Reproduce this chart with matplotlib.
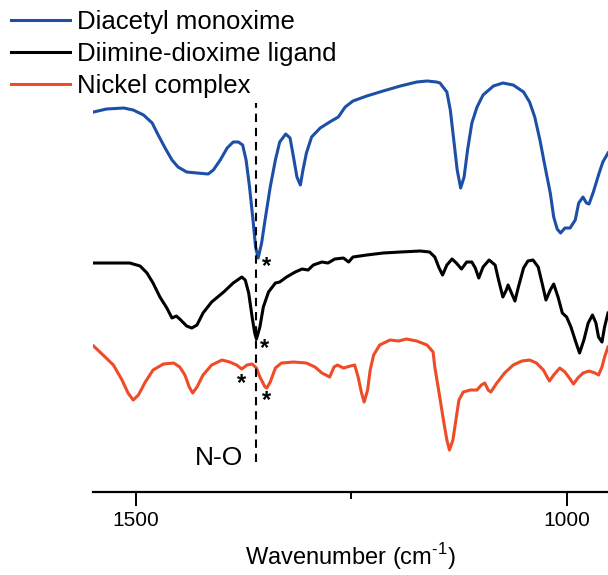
import numpy as np
import matplotlib
matplotlib.use("Agg")
import matplotlib.pyplot as plt

plt.rcParams['font.family'] = ['Liberation Sans', 'DejaVu Sans']
plt.rcParams['mathtext.fontset'] = 'custom'
plt.rcParams['mathtext.rm'] = 'Liberation Sans'

# spectra: wavenumber (cm-1) and intensity (a.u., stacked)
monoxime_wn = [1549, 1534, 1514, 1503, 1491, 1481, 1474, 1466, 1458, 1451, 1441, 1429,
               1416, 1410, 1402, 1394, 1387, 1381, 1376, 1372, 1368, 1364, 1361, 1358,
               1354, 1350, 1344, 1338, 1333, 1326, 1321, 1317, 1313, 1309, 1306, 1302,
               1296, 1286, 1275, 1265, 1257, 1248, 1232, 1213, 1193, 1174, 1162, 1151,
               1147, 1139, 1135, 1131, 1127, 1123, 1119, 1115, 1110, 1104, 1097, 1085,
               1074, 1062, 1050, 1043, 1037, 1031, 1025, 1019, 1015, 1011, 1007, 1002,
               996, 990, 986, 981, 977, 974, 969, 963, 958, 952]
monoxime_y = [380, 383, 384, 382, 377, 369, 357, 344, 332, 325, 320, 319,
              318, 322, 332, 344, 350, 350, 347, 332, 305, 272, 245, 234,
              249, 272, 305, 332, 350, 358, 354, 335, 315, 307, 322, 339,
              355, 364, 370, 375, 385, 391, 396, 401, 406, 410, 411, 410,
              409, 400, 382, 352, 322, 304, 315, 342, 369, 385, 397, 406,
              409, 407, 400, 390, 375, 352, 325, 299, 275, 263, 259, 264,
              264, 272, 289, 295, 289, 288, 300, 317, 330, 339]

ligand_wn = [1549, 1530, 1507, 1495, 1487, 1480, 1472, 1464, 1458, 1453, 1449, 1441,
             1435, 1429, 1422, 1412, 1398, 1387, 1377, 1373, 1369, 1365, 1362, 1360,
             1356, 1352, 1346, 1338, 1333, 1325, 1315, 1307, 1300, 1294, 1284, 1277,
             1269, 1259, 1253, 1248, 1232, 1213, 1193, 1170, 1159, 1153, 1148, 1144,
             1139, 1133, 1128, 1122, 1116, 1110, 1106, 1102, 1097, 1090, 1083, 1079,
             1074, 1070, 1068, 1064, 1060, 1056, 1050, 1045, 1039, 1033, 1028, 1024,
             1019, 1015, 1010, 1005, 1000, 995, 989, 985, 980, 975, 970, 966,
             963, 959, 956, 952]
ligand_y = [229, 229, 229, 226, 219, 209, 195, 184, 174, 176, 173, 166,
            164, 167, 179, 190, 200, 209, 215, 212, 199, 175, 159, 153,
            165, 185, 200, 209, 210, 215, 220, 223, 222, 227, 230, 229,
            233, 234, 230, 235, 237, 239, 240, 241, 240, 235, 224, 217,
            227, 233, 229, 223, 230, 230, 224, 214, 225, 232, 227, 212,
            195, 202, 207, 199, 191, 205, 224, 231, 232, 225, 207, 192,
            202, 208, 195, 179, 175, 165, 149, 139, 152, 169, 177, 169,
            155, 150, 165, 179]

nickel_wn = [1549, 1538, 1526, 1516, 1509, 1503, 1497, 1489, 1480, 1468, 1456, 1449,
             1443, 1438, 1434, 1429, 1422, 1412, 1400, 1391, 1383, 1377, 1371, 1365,
             1360, 1356, 1350, 1348, 1344, 1338, 1331, 1317, 1302, 1292, 1284, 1275,
             1270, 1266, 1259, 1251, 1246, 1242, 1238, 1235, 1231, 1228, 1224, 1217,
             1205, 1195, 1186, 1174, 1162, 1155, 1153, 1148, 1143, 1139, 1136, 1132,
             1128, 1125, 1120, 1112, 1104, 1099, 1095, 1091, 1088, 1081, 1072, 1062,
             1052, 1043, 1035, 1027, 1020, 1015, 1008, 1002, 996, 992, 987, 981,
             974, 967, 963, 959, 956, 952]
nickel_y = [146, 137, 127, 112, 99, 92, 97, 110, 122, 128, 129, 125,
            117, 105, 99, 105, 117, 127, 132, 130, 127, 123, 127, 128,
            124, 115, 105, 104, 110, 124, 129, 130, 129, 125, 119, 115,
            125, 127, 124, 126, 127, 115, 99, 90, 102, 122, 137, 147,
            152, 151, 153, 151, 147, 140, 125, 99, 72, 52, 42, 52,
            75, 92, 100, 102, 102, 107, 109, 102, 100, 109, 119, 127,
            131, 132, 129, 122, 111, 117, 124, 120, 113, 108, 114, 119,
            121, 119, 117, 125, 135, 145]

labels = ['Diacetyl monoxime', 'Diimine-dioxime ligand', 'Nickel complex']
colors = ['#1d4fa6', '#000000', '#ef4b27']

no_band = 1360
# asterisk marks (wavenumber, intensity)
star_wn = [1348, 1351, 1377, 1348]
star_y = [225, 144, 109, 92]


fig = plt.figure(figsize=(6.08, 5.75), dpi=100)
ax = fig.add_axes([0.1525, 0.1443, 0.8475, 0.8557])

series = [(monoxime_wn, monoxime_y), (ligand_wn, ligand_y), (nickel_wn, nickel_y)]
for (wn, y), lab, c in zip(series, labels, colors):
    ax.plot(wn, y, color=c, lw=2.2, label=lab, solid_joinstyle='round')

# N-O band marker
ax.vlines(no_band, 30, 389, colors='black', linestyles=(0, (4, 2.8)), lw=1.5)
ax.text(1404, 34, 'N-O', fontsize=19, ha='center', va='center')
for sx, sy in zip(star_wn, star_y):
    ax.text(sx, sy, '*', fontsize=17, fontweight='bold', ha='center', va='center')

ax.set_xlim(1550, 952)
ax.set_ylim(0, 492)
ax.set_xticks([1500, 1000])
ax.set_xticks([1250], minor=True)
ax.tick_params(axis='x', which='major', length=10, width=1.4, labelsize=15, pad=4)
ax.tick_params(axis='x', which='minor', length=5, width=1.4)
ax.set_yticks([])
for s in ['left', 'right', 'top']:
    ax.spines[s].set_visible(False)
ax.spines['bottom'].set_linewidth(1.6)
ax.set_xlabel('Wavenumber (cm$^{\\text{-1}}$)', fontsize=17, labelpad=8)

ax.legend(loc='upper left', bbox_to_anchor=(0.018, 0.982), bbox_transform=fig.transFigure,
          frameon=False, fontsize=18.5, handlelength=2.3, handletextpad=0.28,
          labelspacing=0.3, borderaxespad=0, borderpad=0)

fig.savefig('out.png', dpi=100)
